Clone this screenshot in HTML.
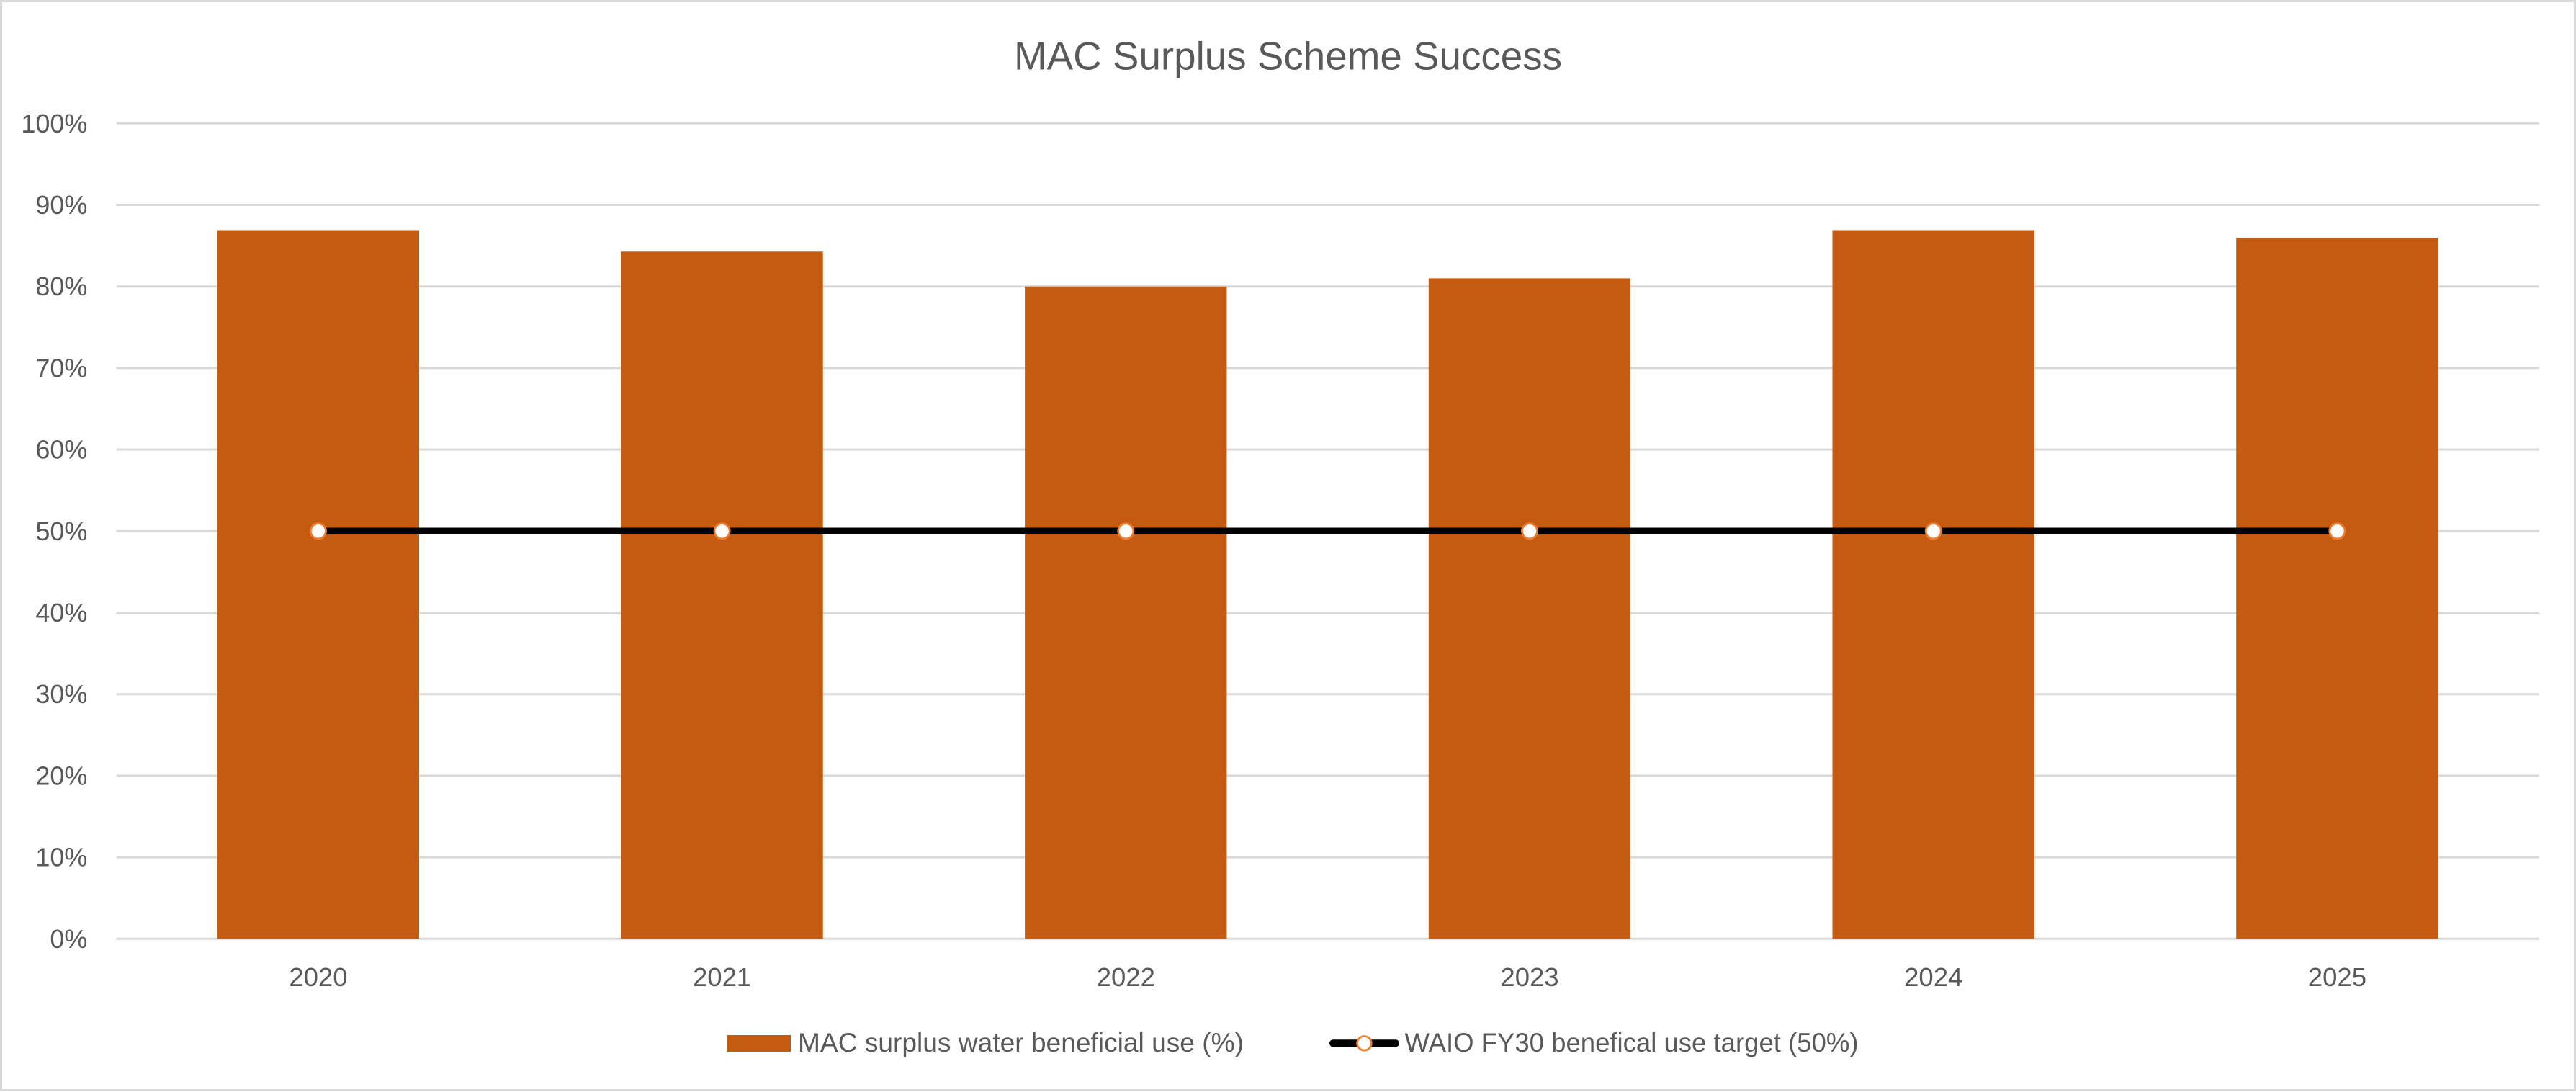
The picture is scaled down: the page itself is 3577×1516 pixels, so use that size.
<!DOCTYPE html>
<html>
<head>
<meta charset="utf-8">
<style>
  html, body { margin: 0; padding: 0; background: #ffffff; }
  svg { display: block; }
  text { font-family: "Liberation Sans", Arial, sans-serif; fill: #595959; }
</style>
</head>
<body>
<svg width="3577" height="1516" viewBox="0 0 3577 1516" xmlns="http://www.w3.org/2000/svg">
  <rect x="0" y="0" width="3577" height="1516" fill="#ffffff"/>
  <rect x="1.5" y="1.5" width="3574" height="1512" fill="none" stroke="#d9d9d9" stroke-width="3"/>

  <!-- Title -->
  <text x="1788.5" y="96.5" font-size="55" text-anchor="middle" textLength="761" lengthAdjust="spacingAndGlyphs">MAC Surplus Scheme Success</text>

  <!-- Gridlines -->
  <g stroke="#d9d9d9" stroke-width="3">
    <line x1="161.6" y1="171.3" x2="3525.7" y2="171.3"/>
    <line x1="161.6" y1="284.5" x2="3525.7" y2="284.5"/>
    <line x1="161.6" y1="397.7" x2="3525.7" y2="397.7"/>
    <line x1="161.6" y1="510.9" x2="3525.7" y2="510.9"/>
    <line x1="161.6" y1="624.1" x2="3525.7" y2="624.1"/>
    <line x1="161.6" y1="737.3" x2="3525.7" y2="737.3"/>
    <line x1="161.6" y1="850.5" x2="3525.7" y2="850.5"/>
    <line x1="161.6" y1="963.7" x2="3525.7" y2="963.7"/>
    <line x1="161.6" y1="1076.9" x2="3525.7" y2="1076.9"/>
    <line x1="161.6" y1="1190.1" x2="3525.7" y2="1190.1"/>
    <line x1="161.6" y1="1303.3" x2="3525.7" y2="1303.3"/>
  </g>

  <!-- Y axis labels -->
  <g font-size="36" text-anchor="end">
    <text x="121.4" y="183.8">100%</text>
    <text x="121.4" y="297.0">90%</text>
    <text x="121.4" y="410.2">80%</text>
    <text x="121.4" y="523.4">70%</text>
    <text x="121.4" y="636.6">60%</text>
    <text x="121.4" y="749.8">50%</text>
    <text x="121.4" y="863.0">40%</text>
    <text x="121.4" y="976.2">30%</text>
    <text x="121.4" y="1089.4">20%</text>
    <text x="121.4" y="1202.6">10%</text>
    <text x="121.4" y="1315.8">0%</text>
  </g>

  <!-- Bars -->
  <g fill="#c55a11">
    <rect x="301.7" y="319.5" width="280.3" height="983.8"/>
    <rect x="862.4" y="349.3" width="280.3" height="954.0"/>
    <rect x="1423.1" y="397.7" width="280.3" height="905.6"/>
    <rect x="1983.8" y="386.4" width="280.3" height="916.9"/>
    <rect x="2544.5" y="319.5" width="280.3" height="983.8"/>
    <rect x="3105.2" y="330.3" width="280.3" height="973.0"/>
  </g>

  <!-- X axis labels -->
  <g font-size="36.5" text-anchor="middle">
    <text x="441.9" y="1369">2020</text>
    <text x="1002.6" y="1369">2021</text>
    <text x="1563.3" y="1369">2022</text>
    <text x="2124.0" y="1369">2023</text>
    <text x="2684.7" y="1369">2024</text>
    <text x="3245.4" y="1369">2025</text>
  </g>

  <!-- Target line -->
  <line x1="441.9" y1="737.3" x2="3245.4" y2="737.3" stroke="#000000" stroke-width="9.5" stroke-linecap="round"/>
  <g fill="#ffffff" stroke="#ed7d31" stroke-width="2.8">
    <circle cx="441.9" cy="737.3" r="10.6"/>
    <circle cx="1002.6" cy="737.3" r="10.6"/>
    <circle cx="1563.3" cy="737.3" r="10.6"/>
    <circle cx="2124.0" cy="737.3" r="10.6"/>
    <circle cx="2684.7" cy="737.3" r="10.6"/>
    <circle cx="3245.4" cy="737.3" r="10.6"/>
  </g>

  <!-- Legend -->
  <rect x="1009.5" y="1437" width="88.5" height="23" fill="#c55a11"/>
  <text x="1108" y="1460" font-size="37" textLength="619" lengthAdjust="spacingAndGlyphs">MAC surplus water beneficial use (%)</text>

  <line x1="1851" y1="1448.3" x2="1938" y2="1448.3" stroke="#000000" stroke-width="10" stroke-linecap="round"/>
  <circle cx="1894.4" cy="1448.3" r="9.8" fill="#ffffff" stroke="#ed7d31" stroke-width="2.8"/>
  <text x="1950.5" y="1460" font-size="37" textLength="630" lengthAdjust="spacingAndGlyphs">WAIO FY30 benefical use target (50%)</text>
</svg>
</body>
</html>
